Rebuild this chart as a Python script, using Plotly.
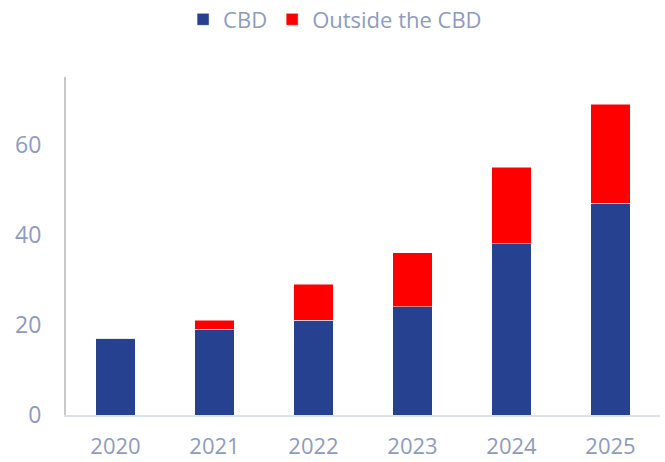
import plotly.graph_objects as go

years = ["2020", "2021", "2022", "2023", "2024", "2025"]
cbd = [17, 19, 21, 24, 38, 47]
outside_cbd = [0, 2, 8, 12, 17, 22]

y_ticks = [0, 20, 40, 60]

TEXT = "#8e9bbf"
FONT = "Open Sans"

fig = go.Figure()
fig.add_trace(go.Bar(
    x=years, y=cbd, name="CBD",
    marker=dict(color="#25418f", line=dict(color="#ffffff", width=0.5)),
))
fig.add_trace(go.Bar(
    x=years, y=outside_cbd, name="Outside the CBD",
    marker=dict(color="#ff0000", line=dict(color="#ffffff", width=0.5)),
))

fig.update_layout(
    barmode="stack",
    bargap=0.6,
    width=665, height=462,
    margin=dict(l=66, r=5, t=77, b=47, autoexpand=False),
    paper_bgcolor="white",
    plot_bgcolor="white",
    font=dict(family=FONT, color=TEXT, size=23),
    showlegend=True,
    legend=dict(
        orientation="h",
        x=0.453, xanchor="center",
        y=1.17, yanchor="middle",
        font=dict(size=22, color=TEXT),
        itemwidth=30,
        traceorder="normal",
    ),
    xaxis=dict(
        automargin=False,
        showline=True, linecolor="#dde2ea", linewidth=2,
        showgrid=False, ticks="", tickfont=dict(size=22, color=TEXT),
        ticklabelstandoff=11,
    ),
    yaxis=dict(
        automargin=False,
        range=[0, 75],
        tickvals=y_ticks,
        showline=True, linecolor="#c8c8c8", linewidth=2,
        showgrid=False, zeroline=False, ticks="",
        tickfont=dict(size=23, color=TEXT),
        ticklabelstandoff=18,
    ),
)

fig.write_html("out.html")
